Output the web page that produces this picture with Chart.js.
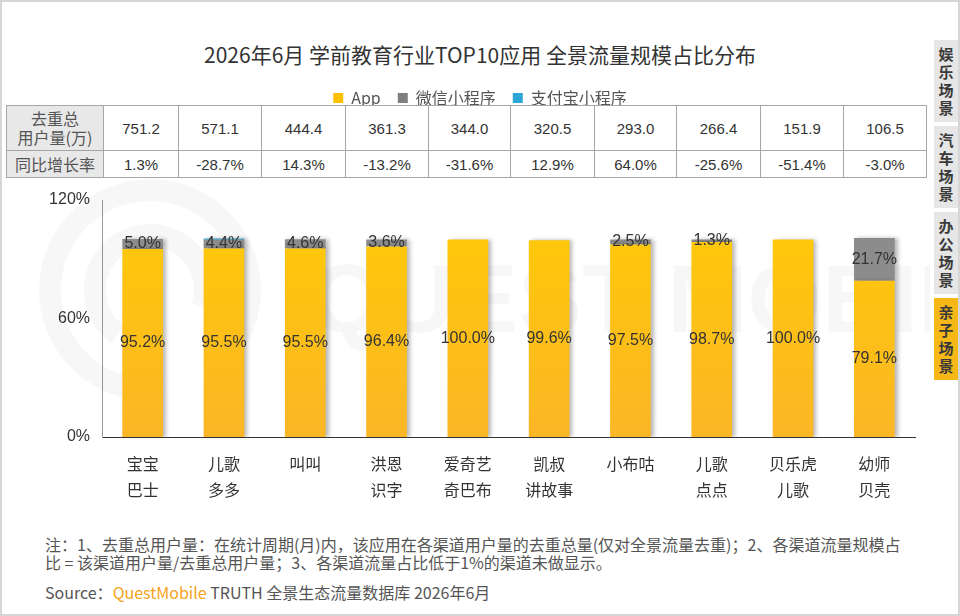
<!DOCTYPE html>
<html>
<head>
<meta charset="utf-8">
<script src="https://cdn.jsdelivr.net/npm/chart.js@4.4.0/dist/chart.umd.min.js"></script>
<style>
html, body { margin: 0; padding: 0; background: #fff; }
body { width: 960px; height: 616px; position: relative; overflow: hidden; font-family: "Liberation Sans", "Noto Sans CJK SC", sans-serif; color: #333; }
#frame { position: absolute; left: 0; top: 0; width: 956px; height: 612px; border: 2px solid #d6d6d6; }
#title { position: absolute; top: 39px; left: 0; width: 960px; text-align: center; font-size: 21px; color: #333; font-family: "Noto Sans CJK SC", sans-serif; line-height: 30px; }
#wrap { position: absolute; left: 30px; top: 73px; width: 900px; height: 437px; }
#stats { position: absolute; left: 6px; top: 105px; border-collapse: collapse; font-size: 15px; color: #333; z-index: 2; background: #fff; }
#stats td { border: 1px solid #a6a6a6; text-align: center; padding: 0; }
#stats td.head { background: #e8e8e8; color: #555; font-family: "Noto Sans CJK SC", sans-serif; font-size: 16px; line-height: 19px; }
#tabs { position: absolute; left: 934px; top: 40px; width: 24px; }
#tabs div { width: 24px; height: 82px; margin-bottom: 4px; background: #e6e6e6; color: #3a3a3a; font-family: "Noto Sans CJK SC", sans-serif; font-weight: bold; font-size: 15px; line-height: 18px; text-align: center; display: flex; align-items: center; justify-content: center; }
#tabs div.on { background: #f6b817; }
#note { position: absolute; left: 45px; top: 535px; font-size: 16px; line-height: 18px; color: #555; font-family: "Noto Sans CJK SC", sans-serif; white-space: nowrap; }
#source { position: absolute; left: 45px; top: 580px; font-size: 16px; color: #555; font-family: "Noto Sans CJK SC", sans-serif; white-space: nowrap; }
#source span { color: #f5a31a; }
</style>
</head>
<body>
<div id="frame"></div>
<div id="title">2026年6月 学前教育行业TOP10应用 全景流量规模占比分布</div>
<div id="wrap"><canvas id="shareChart"></canvas></div>
<table id="stats"></table>
<div id="tabs">
  <div>娱<br>乐<br>场<br>景</div>
  <div>汽<br>车<br>场<br>景</div>
  <div>办<br>公<br>场<br>景</div>
  <div class="on">亲<br>子<br>场<br>景</div>
</div>
<div id="note">注：1、去重总用户量：在统计周期(月)内，该应用在各渠道用户量的去重总量(仅对全景流量去重)；2、各渠道流量规模占<br>比 = 该渠道用户量/去重总用户量；3、各渠道流量占比低于1%的渠道未做显示。</div>
<div id="source">Source：<span>QuestMobile</span> TRUTH 全景生态流量数据库 2026年6月</div>

<script>
// 学前教育 TOP10 — channel share per app

const categories = [['宝宝', '巴士'], ['儿歌', '多多'], ['叫叫'], ['洪恩', '识字'], ['爱奇艺', '奇巴布'],
    ['凯叔', '讲故事'], ['小布咕'], ['儿歌', '点点'], ['贝乐虎', '儿歌'], ['幼师', '贝壳']];
const appShare = [95.2, 95.5, 95.5, 96.4, 100.0, 99.6, 97.5, 98.7, 100.0, 79.1];
const wechatShare = [5.0, 4.4, 4.6, 3.6, null, null, 2.5, 1.3, null, 21.7];
const alipayShare = [null, 0.6, null, null, null, null, null, null, null, null];
const totalUsers = ['751.2', '571.1', '444.4', '361.3', '344.0', '320.5', '293.0', '266.4', '151.9', '106.5'];
const yoyGrowth = ['1.3%', '-28.7%', '14.3%', '-13.2%', '-31.6%', '12.9%', '64.0%', '-25.6%', '-51.4%', '-3.0%'];
const seriesNames = ['App', '微信小程序', '支付宝小程序'];
const yMax = 120;
const yStep = 60;

// table above the plot
const colWidths = [96, 74, 82, 83, 82, 81, 83, 81, 83, 82, 82];
const tbl = document.getElementById('stats');
const row1 = tbl.insertRow();
row1.style.height = '45px';
const row2 = tbl.insertRow();
row2.style.height = '27px';
let c = row1.insertCell(); c.className = 'head'; c.innerHTML = '去重总<br>用户量(万)'; c.style.width = colWidths[0] + 'px';
c = row2.insertCell(); c.className = 'head'; c.textContent = '同比增长率';
totalUsers.forEach((v, i) => {
    const cell = row1.insertCell();
    cell.textContent = v;
    cell.style.width = colWidths[i + 1] + 'px';
    row2.insertCell().textContent = yoyGrowth[i];
});

const textDark = '#333333';
const numFont = { family: "'Liberation Sans', 'Noto Sans CJK SC', sans-serif", size: 16 };
const cjkFont = { family: "'Noto Sans CJK SC', sans-serif", size: 16, lineHeight: '26px' };

function appFill(ctx) {
    const area = ctx.chart.chartArea;
    if (!area) return '#FFC60A';
    const g = ctx.chart.ctx.createLinearGradient(0, area.top, 0, area.bottom);
    g.addColorStop(0, '#FFCB05');
    g.addColorStop(1, '#FBB626');
    return g;
}

// faint QuestMobile watermark
const watermark = {
    id: 'watermark',
    beforeDatasetsDraw(chart) {
        const ctx = chart.ctx;
        ctx.save();
        ctx.strokeStyle = 'rgba(0,0,0,0.03)';
        ctx.lineWidth = 22;
        ctx.beginPath(); ctx.arc(120, 217, 100, Math.PI * 0.55, Math.PI * 2.2); ctx.stroke();
        ctx.beginPath(); ctx.arc(120, 217, 55, Math.PI * 0.7, Math.PI * 2.1); ctx.stroke();
        ctx.fillStyle = 'rgba(0,0,0,0.03)';
        ctx.font = "bold 96px 'Liberation Sans', sans-serif";
        ctx.textBaseline = 'middle';
        ctx.fillText('QUEST MOBILE', 280, 233);
        ctx.restore();
    }
};

// soft shadow to the right of each bar
const barShadow = {
    id: 'barShadow',
    beforeDatasetDraw(chart) {
        const ctx = chart.ctx;
        ctx.shadowColor = 'rgba(0,0,0,0.28)';
        ctx.shadowBlur = 4;
        ctx.shadowOffsetX = 3;
        ctx.shadowOffsetY = 0;
    },
    afterDatasetDraw(chart) {
        const ctx = chart.ctx;
        ctx.shadowColor = 'transparent';
        ctx.shadowBlur = 0;
        ctx.shadowOffsetX = 0;
    }
};

// value labels in the middle of each segment (>= 1% only)
const segmentLabels = {
    id: 'segmentLabels',
    afterDatasetsDraw(chart) {
        const ctx = chart.ctx;
        ctx.save();
        ctx.font = "16px 'Liberation Sans', sans-serif";
        ctx.fillStyle = textDark;
        ctx.textAlign = 'center';
        ctx.textBaseline = 'middle';
        chart.data.datasets.forEach((ds, di) => {
            const meta = chart.getDatasetMeta(di);
            meta.data.forEach((bar, i) => {
                const v = ds.data[i];
                if (v == null || v < 1) return;
                ctx.fillText(v.toFixed(1) + '%', bar.x, (bar.y + bar.base) / 2);
            });
        });
        ctx.restore();
    }
};

// extra room under the legend for the table
const legendGap = {
    id: 'legendGap',
    beforeInit(chart) {
        const fit = chart.legend.fit;
        chart.legend.fit = function () {
            fit.bind(chart.legend)();
            this.height = 127;
        };
    }
};

new Chart(document.getElementById('shareChart'), {
    type: 'bar',
    data: {
        labels: categories,
        datasets: [
            { label: seriesNames[0], data: appShare, backgroundColor: appFill },
            { label: seriesNames[1], data: wechatShare, backgroundColor: '#8C8C8C' },
            { label: seriesNames[2], data: alipayShare, backgroundColor: '#3AA6D6' }
        ]
    },
    options: {
        responsive: true,
        maintainAspectRatio: false,
        animation: false,
        categoryPercentage: 1,
        barPercentage: 0.5,
        layout: { padding: { left: 15, right: 15 } },
        plugins: {
            legend: {
                position: 'top',
                labels: {
                    boxWidth: 10,
                    boxHeight: 10,
                    padding: 17,
                    color: '#555',
                    font: { family: "'Noto Sans CJK SC', sans-serif", size: 16 },
                    generateLabels(chart) {
                        const cols = ['#FFC000', '#7F7F7F', '#2EA7D8'];
                        return chart.data.datasets.map((ds, i) => ({
                            text: ds.label, fillStyle: cols[i], strokeStyle: cols[i], lineWidth: 0, datasetIndex: i, fontColor: '#555'
                        }));
                    }
                }
            },
            tooltip: { enabled: false }
        },
        scales: {
            x: {
                stacked: true,
                grid: { display: false },
                border: { display: true, color: '#333', width: 1 },
                ticks: { color: textDark, font: cjkFont, padding: 6, maxRotation: 0, autoSkip: false },
                afterFit(scale) { scale.height = 73; }
            },
            y: {
                stacked: true,
                min: 0,
                max: yMax,
                grid: { display: false },
                border: { display: true, color: '#999', width: 1 },
                ticks: { stepSize: yStep, color: textDark, font: numFont, padding: 4, callback: v => v + '%' },
                afterFit(scale) { scale.width = 57; }
            }
        }
    },
    plugins: [legendGap, watermark, barShadow, segmentLabels]
});
</script>
</body>
</html>
